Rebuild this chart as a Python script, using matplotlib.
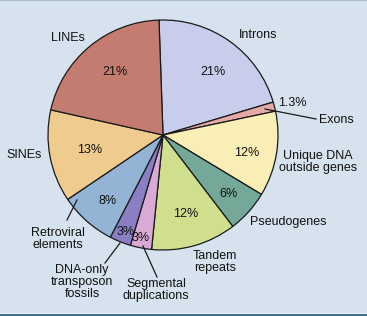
import matplotlib.pyplot as plt
from matplotlib.patches import Rectangle

plt.rcParams['font.family'] = ['Liberation Sans', 'DejaVu Sans']

# genome composition (percent), clockwise from the top
categories = ["Introns", "Exons", "Unique DNA\noutside genes", "Pseudogenes",
              "Tandem\nrepeats", "Segmental\nduplications",
              "DNA-only\ntransposon\nfossils", "Retroviral\nelements", "SINEs", "LINEs"]
values = [21, 1.3, 12, 6, 12, 3, 3, 8, 13, 21]
pct_labels = ["21%", "1.3%", "12%", "6%", "12%", "3%", "3%", "8%", "13%", "21%"]
colors = ["#c9cdec", "#e3aaa8", "#f9eeb6", "#74a898", "#d0df8e",
          "#d9aad6", "#8a7ec4", "#93b4d4", "#f0cb8e", "#c57c70"]

W, H = 367, 316
fig = plt.figure(figsize=(W / 100, H / 100), dpi=100)
fig.patch.set_facecolor("#d6e3ee")
ax = fig.add_axes([0, 0, 1, 1])
ax.set_xlim(0, W)
ax.set_ylim(H, 0)
ax.axis("off")
ax.set_aspect("equal")

# frame strips (top grey line, bottom blue rule)
ax.add_patch(Rectangle((0, 0), W, 1.2, color="#a9bccb", lw=0))
ax.add_patch(Rectangle((0, 312.5), W, 1.5, color="#eef5fa", lw=0))
ax.add_patch(Rectangle((0, 314), W, 3, color="#3e6e92", lw=0))

cx, cy, r = 163, 135, 115
# y axis is inverted, so counterclock=True draws clockwise on screen
ax.pie(values, colors=colors, startangle=-92, counterclock=True,
       center=(cx, cy), radius=r, frame=True,
       wedgeprops=dict(edgecolor="#1a1a1a", linewidth=0.9))
ax.set_xlim(0, W)
ax.set_ylim(H, 0)
ax.axis("off")

fs = 9
# percent labels
pct_pos = [(213, 72), (292, 103), (247, 153), (228, 194), (186, 214),
           (141, 238), (126, 232), (108, 201), (90, 150), (115, 72)]
for (x, y), t in zip(pct_pos, pct_labels):
    ax.text(x, y, t, fontsize=fs, ha="center", va="center", color="#111111")

# category labels
cat_pos = [(258, 35), (336, 120), (318, 162), (288, 222), (215, 262),
           (156, 290), (82, 282), (58, 239), (24, 155), (68, 38)]
for (x, y), t in zip(cat_pos, categories):
    ax.text(x, y, t, fontsize=fs, ha="center", va="center", color="#111111",
            linespacing=1.05)

# leader lines
leaders = [((265, 109), (316, 119)),
           ((143, 246), (157, 277)),
           ((120, 243), (105, 263)),
           ((77, 200), (67, 220))]
for (x0, y0), (x1, y1) in leaders:
    ax.plot([x0, x1], [y0, y1], color="#1a1a1a", lw=0.9)

fig.savefig("out.png", dpi=100, facecolor=fig.get_facecolor())
